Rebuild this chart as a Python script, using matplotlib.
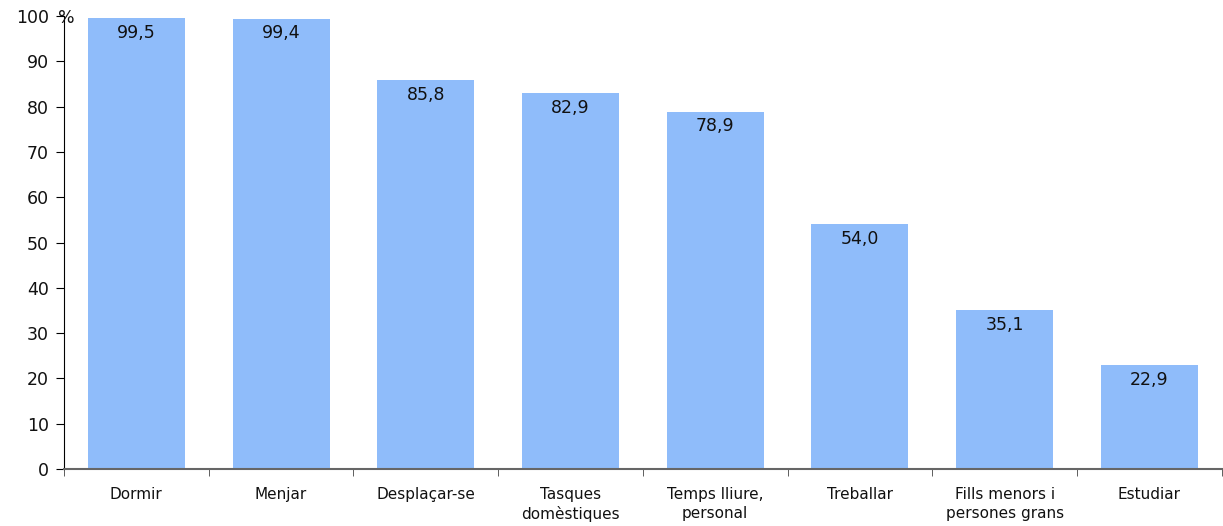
import matplotlib.pyplot as plt
from matplotlib.ticker import FixedLocator, NullFormatter

categories = ["Dormir", "Menjar", "Desplaçar-se", "Tasques\ndomèstiques",
              "Temps lliure,\npersonal", "Treballar", "Fills menors i\npersones grans",
              "Estudiar"]
values = [99.5, 99.4, 85.8, 82.9, 78.9, 54.0, 35.1, 22.9]
labels = ["99,5", "99,4", "85,8", "82,9", "78,9", "54,0", "35,1", "22,9"]
yticks = list(range(0, 101, 10))

plt.rcParams['font.family'] = ['DejaVu Sans']

fig = plt.figure(figsize=(12.23, 5.26), dpi=100)
ax = fig.add_axes([64 / 1223, 1 - 469 / 526, 1 - 64 / 1223 - 0.001, (469 - 16) / 526])

x = range(len(categories))
bars = ax.bar(x, values, width=0.67, color="#8FBCFA", zorder=2)

for b, lab in zip(bars, labels):
    ax.annotate(lab, (b.get_x() + b.get_width() / 2, b.get_height()),
                xytext=(0, -4), textcoords="offset points",
                ha="center", va="top", fontsize=12.5, color="#111111")

ax.set_xlim(-0.5, len(categories) - 0.5)
ax.set_ylim(0, 100)
ax.set_yticks(yticks)
ax.set_yticklabels([str(t) for t in yticks], fontsize=12.5, color="#111111")
ax.annotate("%", (0, 1), xycoords="axes fraction", xytext=(-6, 0),
            textcoords="offset pixels", ha="left", va="center_baseline",
            fontsize=12.5, color="#111111")

ax.set_xticks(list(x))
ax.set_xticklabels(categories, fontsize=11, color="#111111", linespacing=1.3)
ax.tick_params(axis="x", which="major", length=0, pad=13)
ax.xaxis.set_minor_locator(FixedLocator([i + 0.5 for i in range(-1, len(categories))]))
ax.xaxis.set_minor_formatter(NullFormatter())
ax.tick_params(axis="x", which="minor", length=5, color="#444444")
ax.tick_params(axis="y", length=6, pad=5)

for s in ["top", "right"]:
    ax.spines[s].set_visible(False)
ax.spines["bottom"].set_color("#666666")
ax.spines["bottom"].set_linewidth(1.5)
ax.spines["left"].set_color("black")

fig.savefig("out.png", dpi=100)
